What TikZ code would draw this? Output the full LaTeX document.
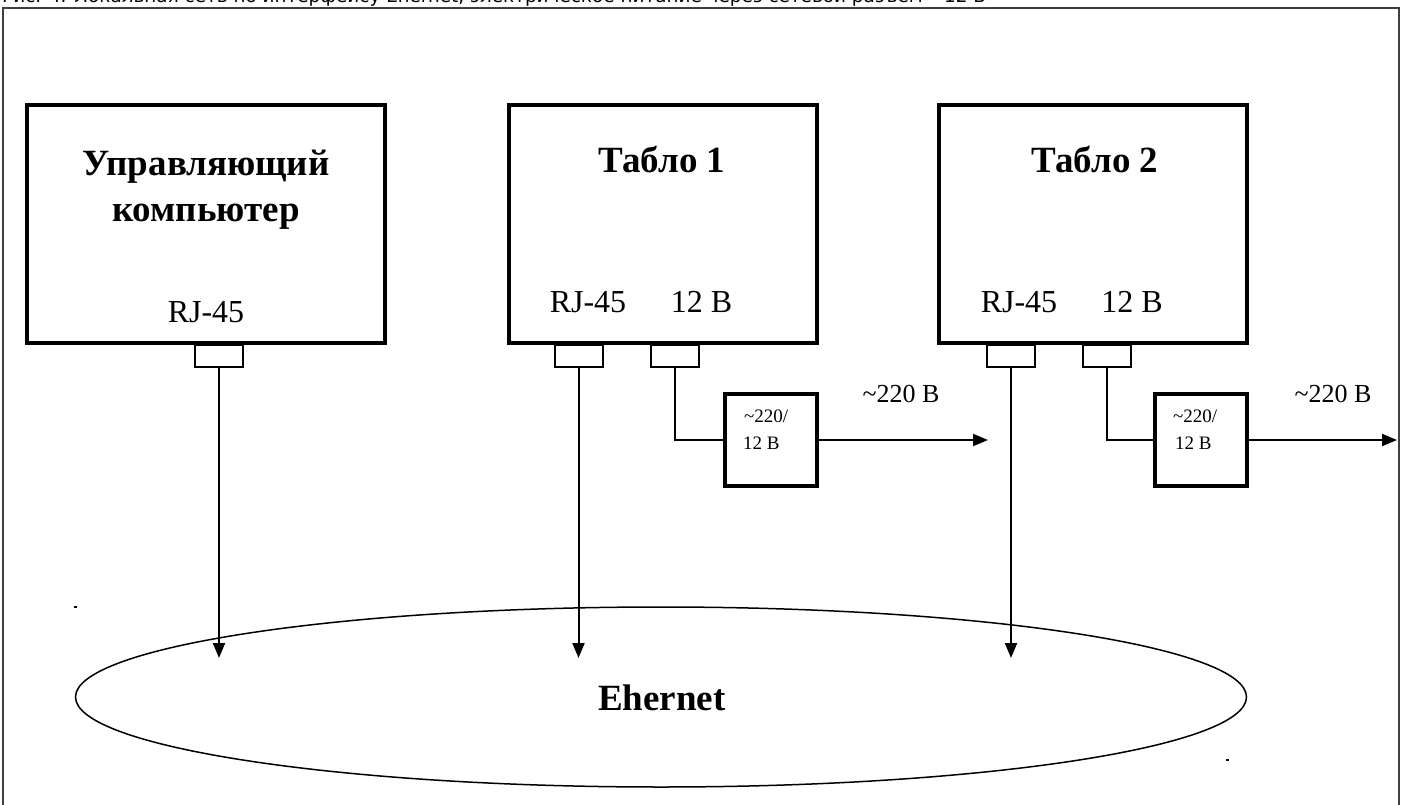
\documentclass[tikz,border=0pt]{standalone}
\usepackage{fontspec}
\setmainfont{Liberation Serif}
\newfontfamily\titlefont{DejaVu Sans}
\usetikzlibrary{arrows.meta,shapes.geometric}
\tikzset{
  frame/.style={draw=black!75, line width=1.5pt},
  bigbox/.style={draw, line width=4pt, minimum height=238pt, inner sep=0pt},
  portbox/.style={draw, line width=2pt, minimum width=48pt, minimum height=22pt, inner sep=0pt},
  convbox/.style={draw, line width=4pt, minimum width=92pt, minimum height=92pt, inner sep=0pt},
  wire/.style={line width=2pt},
  arr/.style={line width=2pt, -{Triangle[length=15pt,width=12pt]}},
  boldlbl/.style={font=\fontsize{37pt}{40pt}\selectfont\bfseries, inner sep=0pt, anchor=base},
  lbl/.style={font=\fontsize{32pt}{34pt}\selectfont, inner sep=0pt, anchor=base},
  midlbl/.style={font=\fontsize{26pt}{30pt}\selectfont, inner sep=0pt, anchor=base},
  smalllbl/.style={font=\fontsize{19pt}{27pt}\selectfont, inner sep=0pt, anchor=base west},
  net/.style={draw, line width=1.5pt, ellipse, minimum width=1171pt, minimum height=180pt, inner sep=0pt},
  speck/.style={fill=black, minimum width=3pt, minimum height=2pt, inner sep=0pt},
}
\begin{document}
\begin{tikzpicture}[x=1pt,y=-1pt]
\useasboundingbox (0,0) rectangle (1402,805);
% title (clipped at top, as in the reference)
\node[font=\titlefont\fontsize{18.4pt}{20pt}\selectfont, inner sep=0pt, anchor=base west] (title) at (2,2.5) {Рис. 4. Локальная сеть по интерфейсу Ehernet, электрическое питание через сетевой разъем \textasciitilde12 В};
\draw[frame] (3,8) rectangle (1399,820);

% boxes
\node[bigbox, minimum width=358pt] (pc) at (206,224) {};
\node[bigbox, minimum width=308pt] (t1) at (663,224) {};
\node[bigbox, minimum width=308pt] (t2) at (1093,224) {};

\node[boldlbl] (pcl1) at (206,176) {Управляющий};
\node[boldlbl] (pcl2) at (206,222) {компьютер};
\node[lbl] (pcrj) at (206,322) {RJ-45};

\node[boldlbl] (t1l) at (662,173) {Табло 1};
\node[lbl] (t1rj) at (588,312) {RJ-45};
\node[lbl] (t1v) at (701.5,312) {12 В};

\node[boldlbl] (t2l) at (1095,173) {Табло 2};
\node[lbl] (t2rj) at (1019,312) {RJ-45};
\node[lbl] (t2v) at (1132,312) {12 В};

% ports
\node[portbox] (pcp) at (219,356) {};
\node[portbox] (t1p) at (578.5,356) {};
\node[portbox] (t1q) at (675,356) {};
\node[portbox] (t2p) at (1011,356) {};
\node[portbox] (t2q) at (1106.5,356) {};

% converters
\node[convbox] (c1) at (770.5,440) {};
\node[smalllbl] (c1a) at (744,422) {\textasciitilde220/};
\node[smalllbl] (c1b) at (743,449) {12 В};
\node[convbox] (c2) at (1200.5,440) {};
\node[smalllbl] (c2a) at (1173,422) {\textasciitilde220/};
\node[smalllbl] (c2b) at (1175,449) {12 В};

\node[midlbl] (v1) at (901,402) {\textasciitilde220 В};
\node[midlbl] (v2) at (1333,402) {\textasciitilde220 В};

% network
\node[net] (eth) at (661,697) {};
\node[boldlbl] (ethl) at (662,710) {Ehernet};

% arrow ends
\coordinate (pce) at (219,658);
\coordinate (t1e) at (578.5,658);
\coordinate (t2e) at (1011,658);
\coordinate (c1e) at (988,440);
\coordinate (c2e) at (1397,440);

\draw[arr] (pcp.south) -- (pce);
\draw[arr] (t1p.south) -- (t1e);
\draw[arr] (t2p.south) -- (t2e);
\draw[wire] (t1q.south) |- (c1.west);
\draw[wire] (t2q.south) |- (c2.west);
\draw[arr] (c1.east) -- (c1e);
\draw[arr] (c2.east) -- (c2e);

% stray specks
\node[speck] (s1) at (75,607) {};
\node[speck] (s2) at (1227,760) {};
\end{tikzpicture}
\end{document}
